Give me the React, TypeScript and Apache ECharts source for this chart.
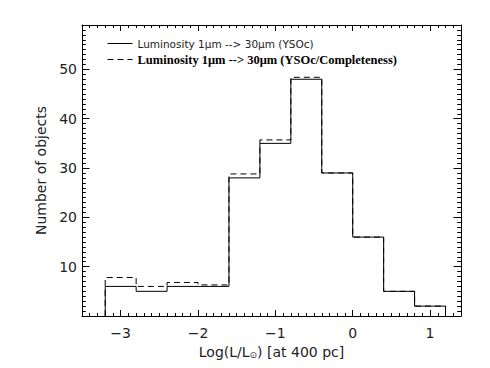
import React, { useEffect, useRef } from 'react';
import * as echarts from 'echarts';

const binEdges = [-3.2, -2.8, -2.4, -2.0, -1.6, -1.2, -0.8, -0.4, 0, 0.4, 0.8, 1.2];
const ysocCounts = [6, 5, 6, 6, 28, 35, 48, 29, 16, 5, 2];
const completenessCounts = [7.8, 6, 6.8, 6.3, 28.8, 35.7, 48.4, 29, 16, 5, 2];
const xTickLabels = [-3, -2, -1, 0, 1];
const yTickLabels = [10, 20, 30, 40, 50];
const nameSolid = 'Luminosity 1μm --> 30μm (YSOc)';
const nameDashed = 'Luminosity 1μm --> 30μm (YSOc/Completeness)';

function staircase(edges: number[], vals: number[]) {
  const pts: number[][] = [[edges[0], 0]];
  vals.forEach((v, i) => {
    pts.push([edges[i], v]);
    pts.push([edges[i + 1], v]);
  });
  pts.push([edges[edges.length - 1], 0]);
  return pts;
}

const near = (arr: number[], v: number) => arr.some((a) => Math.abs(a - v) < 1e-6);

export default function App() {
  const ref = useRef<HTMLDivElement>(null);
  useEffect(() => {
    if (!ref.current) return;
    const chart = echarts.init(ref.current, undefined, { renderer: 'svg' });
    const font = 'DejaVu Sans';
    const txt = '#222';
    const xBase = {
      type: 'value' as const,
      min: -3.5,
      max: 1.4,
      axisLine: { show: true, onZero: false, lineStyle: { color: '#000', width: 1 } },
      axisTick: { show: true, inside: true, length: 6, lineStyle: { color: '#000', width: 1 } },
      minorTick: { show: true, splitNumber: 10, length: 3, lineStyle: { color: '#000', width: 1 } },
      splitLine: { show: false },
    };
    const yBase = {
      type: 'value' as const,
      min: 0,
      max: 59,
      axisLine: { show: true, onZero: false, lineStyle: { color: '#000', width: 1 } },
      axisTick: { show: true, inside: true, length: 7.5, lineStyle: { color: '#000', width: 1 } },
      minorTick: { show: true, splitNumber: 10, length: 3.8, lineStyle: { color: '#000', width: 1 } },
      splitLine: { show: false },
    };
    chart.setOption({
      animation: false,
      backgroundColor: '#fff',
      grid: { left: 82, right: 29, top: 25, bottom: 52, containLabel: false },
      legend: {
        show: true,
        orient: 'vertical',
        left: 102,
        top: 33,
        itemWidth: 25,
        itemHeight: 10,
        itemGap: 4,
        itemStyle: { opacity: 0, borderWidth: 0 },
        lineStyle: { width: 1 },
        data: [
          { name: nameSolid, textStyle: { fontFamily: font, fontSize: 10.5, color: txt } },
          {
            name: nameDashed,
            textStyle: { fontFamily: 'Liberation Serif', fontWeight: 'bold', fontSize: 12.5, color: '#000' },
          },
        ],
      },
      xAxis: [
        {
          ...xBase,
          position: 'bottom',
          name: 'Log(L/L{sub|⊙}) [at 400 pc]',
          nameLocation: 'middle',
          nameGap: 28,
          nameTextStyle: {
            fontFamily: font,
            fontSize: 14,
            color: txt,
            rich: { sub: { fontFamily: font, fontSize: 9, color: txt, verticalAlign: 'bottom', padding: [6, 0, 0, 0] } },
          },
          axisLabel: {
            show: true,
            margin: 10,
            fontFamily: font,
            fontSize: 14,
            color: txt,
            showMinLabel: false,
            showMaxLabel: false,
            formatter: (v: number) => (near(xTickLabels, v) ? String(Math.round(v)).replace('-', '−') : ''),
          },
        },
        { ...xBase, position: 'top', axisLabel: { show: false } },
      ],
      yAxis: [
        {
          ...yBase,
          position: 'left',
          name: 'Number of objects',
          nameLocation: 'middle',
          nameGap: 24,
          nameTextStyle: { fontFamily: font, fontSize: 14, color: txt },
          axisLabel: {
            show: true,
            margin: 5,
            fontFamily: font,
            fontSize: 14,
            color: txt,
            formatter: (v: number) => (near(yTickLabels, v) ? String(v) : ''),
          },
        },
        { ...yBase, position: 'right', axisLabel: { show: false } },
      ],
      series: [
        {
          name: nameDashed,
          type: 'line',
          xAxisIndex: 0,
          yAxisIndex: 0,
          data: staircase(binEdges, completenessCounts),
          symbol: 'none',
          showSymbol: false,
          lineStyle: { color: '#000', width: 1, type: [6, 4] },
          itemStyle: { color: '#000' },
          z: 2,
        },
        {
          name: nameSolid,
          type: 'line',
          xAxisIndex: 0,
          yAxisIndex: 0,
          data: staircase(binEdges, ysocCounts),
          symbol: 'none',
          showSymbol: false,
          lineStyle: { color: '#000', width: 1, type: 'solid' },
          itemStyle: { color: '#000' },
          z: 3,
        },
      ],
    });
    return () => chart.dispose();
  }, []);
  return (
    <div
      ref={ref}
      style={{ position: 'fixed', left: 0, top: 0, width: 490, height: 368, background: '#fff' }}
    />
  );
}
